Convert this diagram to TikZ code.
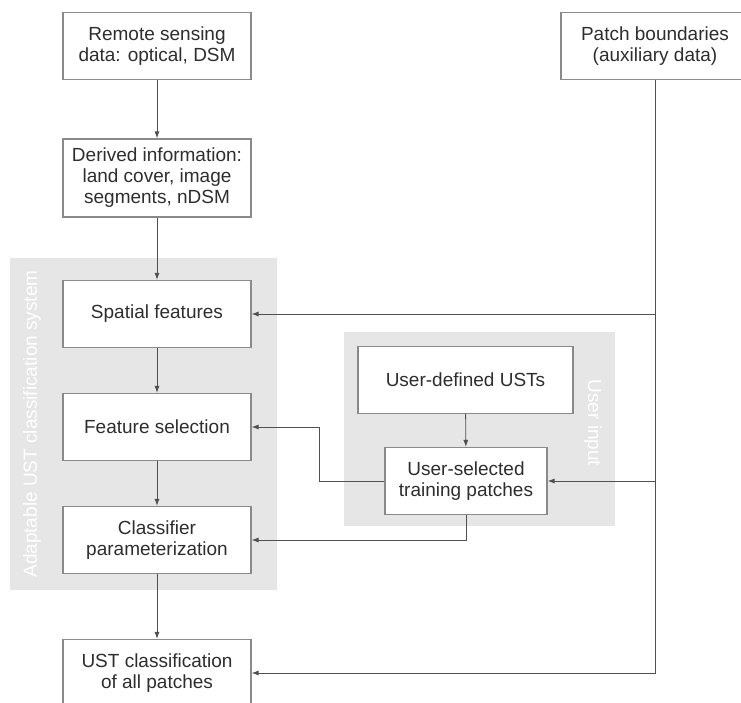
\documentclass[tikz,border=0pt]{standalone}
\usepackage{fontspec}
\setmainfont{Liberation Sans}
\usetikzlibrary{positioning, calc, arrows.meta}
\definecolor{boxline}{HTML}{8A8A8A}
\definecolor{linegray}{HTML}{505050}
\definecolor{textgray}{HTML}{2E2E2E}
\definecolor{panelgray}{HTML}{E6E6E7}
\tikzset{ubox/.style={draw=boxline, line width=1.1pt, fill=white, text=textgray, align=center, inner sep=2pt, minimum width=188pt, minimum height=67pt, font=\fontsize{19}{21}\selectfont}}
\tikzset{arr/.style={draw=linegray, line width=0.9pt, -{Latex[length=7pt,width=5pt]}}}
\tikzset{panel/.style={fill=panelgray, draw=none}}
\tikzset{paneltext/.style={text=white, font=\fontsize{19}{21}\selectfont}}

\begin{document}
\begin{tikzpicture}[x=1pt, y=-1pt]
\useasboundingbox (0,0) rectangle (741,703);
\clip (0,0) rectangle (741,703);
% grey panels
\fill[panel] (10,258) rectangle (277,590);
\fill[panel] (344,332) rectangle (615,526);
\node[paneltext, rotate=90] (adapt) at (32,424) {Adaptable UST classification system};
\node[paneltext, rotate=-90] (uin) at (593,423) {User input};
% boxes
\node[ubox] (RS) at (157,46) {Remote sensing\\data: optical, DSM};
\node[ubox, minimum height=78pt] (DI) at (157,178) {Derived information:\\land cover, image\\segments, nDSM};
\node[ubox] (SF) at (157,314) {Spatial features};
\node[ubox] (FS) at (157,427) {Feature selection};
\node[ubox] (CP) at (157,540) {Classifier\\parameterization};
\node[ubox] (UC) at (157,673) {UST classification\\of all patches};
\node[ubox] (PB) at (655,46) {Patch boundaries\\(auxiliary data)};
\node[ubox, minimum width=215pt] (UD) at (465.5,380) {User-defined USTs};
\node[ubox, minimum width=162pt] (TP) at (466,481) {User-selected\\training patches};
% main chain
\draw[arr] (RS) -- (DI);
\draw[arr] (DI) -- (SF);
\draw[arr] (SF) -- (FS);
\draw[arr] (FS) -- (CP);
\draw[arr] (CP) -- (UC);
\draw[arr] (UD) -- (TP);
% patch boundaries
\draw[arr] (PB.south) |- (UC.east);
\draw[arr] (PB.south |- SF.east) -- (SF.east);
\draw[arr] (PB.south |- TP.east) -- (TP.east);
% user input
\draw[arr] (TP.west) -- ++(-65,0) |- (FS.east);
\draw[arr] (TP.south) |- (CP.east);
\end{tikzpicture}
\end{document}
